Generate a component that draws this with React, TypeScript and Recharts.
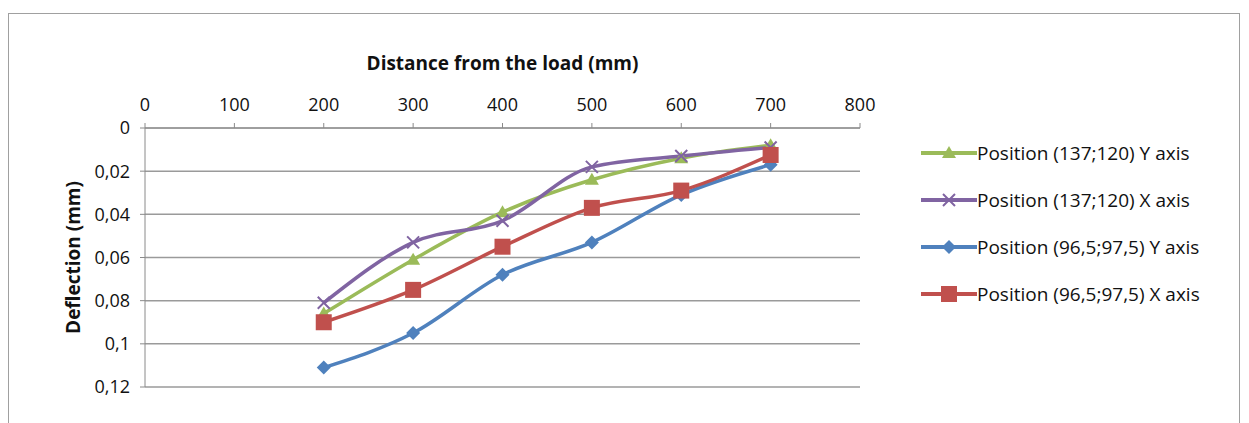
import { CartesianGrid, Line, LineChart, XAxis, YAxis } from "recharts";

const distances = [200, 300, 400, 500, 600, 700];
const pos137Y = [0.086, 0.061, 0.039, 0.024, 0.014, 0.008];
const pos137X = [0.081, 0.053, 0.043, 0.018, 0.013, 0.009];
const pos96Y = [0.111, 0.095, 0.068, 0.053, 0.031, 0.017];
const pos96X = [0.09, 0.075, 0.055, 0.037, 0.029, 0.0125];

const xTicks = [0, 100, 200, 300, 400, 500, 600, 700, 800];
const yTicks = [0, 0.02, 0.04, 0.06, 0.08, 0.1, 0.12];

type MarkerKind = "triangle" | "cross" | "diamond" | "square";

interface SeriesDef {
  key: string;
  name: string;
  color: string;
  marker: MarkerKind;
}

const series: SeriesDef[] = [
  { key: "g", name: "Position (137;120) Y axis", color: "#9BBB59", marker: "triangle" },
  { key: "p", name: "Position (137;120) X axis", color: "#8064A2", marker: "cross" },
  { key: "b", name: "Position (96,5;97,5) Y axis", color: "#4F81BD", marker: "diamond" },
  { key: "r", name: "Position (96,5;97,5) X axis", color: "#C0504D", marker: "square" },
];

const data = distances.map((d, i) => ({
  d,
  g: pos137Y[i],
  p: pos137X[i],
  b: pos96Y[i],
  r: pos96X[i],
}));

const FONT = "'Open Sans', sans-serif";

function markerShape(kind: MarkerKind, color: string, cx: number, cy: number, key?: string) {
  if (kind === "triangle") {
    return <polygon key={key} points={`${cx},${cy - 7} ${cx + 7},${cy + 5} ${cx - 7},${cy + 5}`} fill={color} />;
  }
  if (kind === "square") {
    return <rect key={key} x={cx - 8} y={cy - 8} width={16} height={16} fill={color} />;
  }
  if (kind === "diamond") {
    return <polygon key={key} points={`${cx},${cy - 7} ${cx + 7},${cy} ${cx},${cy + 7} ${cx - 7},${cy}`} fill={color} />;
  }
  return (
    <path key={key} d={`M${cx - 6},${cy - 6}L${cx + 6},${cy + 6}M${cx - 6},${cy + 6}L${cx + 6},${cy - 6}`} stroke={color} strokeWidth={2} fill="none" />
  );
}

function Legend() {
  return (
    <div style={{ position: "absolute", left: 910, top: 115, fontFamily: FONT, fontSize: 19, color: "#111" }}>
      {series.map((s) => (
        <div key={s.key} style={{ display: "flex", alignItems: "center", height: 47 }}>
          <svg width={58} height={20}>
            <line x1={2} y1={10} x2={58} y2={10} stroke={s.color} strokeWidth={4} />
            {markerShape(s.marker, s.color, 30, 10)}
          </svg>
          <span>{s.name}</span>
        </div>
      ))}
    </div>
  );
}

export default function App() {
  return (
    <div style={{ position: "relative", width: 1232, height: 420, marginTop: 5, border: "1px solid #a0a0a0", boxSizing: "border-box" }}>
      <LineChart width={1230} height={405} data={data} margin={{ top: 84, right: 379, left: 76, bottom: 32 }}>
        <CartesianGrid vertical={false} stroke="#9a9a9a" strokeWidth={1.5} />
        <XAxis
          dataKey="d"
          type="number"
          orientation="top"
          domain={[0, 800]}
          ticks={xTicks}
          height={30}
          stroke="#8a8a8a"
          tickSize={5}
          tickMargin={12}
          tick={{ fontSize: 18, fill: "#111", fontFamily: FONT }}
          label={{ value: "Distance from the load (mm)", position: "top", offset: 28, fontSize: 19, fontWeight: 700, fill: "#111", fontFamily: FONT }}
        />
        <YAxis
          type="number"
          reversed
          domain={[0, 0.12]}
          ticks={yTicks}
          width={60}
          stroke="#8a8a8a"
          tickSize={5}
          tickMargin={10}
          tickFormatter={(v: number) => String(v).replace(".", ",")}
          tick={{ fontSize: 18, fill: "#111", fontFamily: FONT }}
          label={{ value: "Deflection (mm)", angle: -90, position: "insideLeft", offset: -12, style: { textAnchor: "middle" }, fontSize: 19, fontWeight: 700, fill: "#111", fontFamily: FONT }}
        />
        {series.map((s) => (
          <Line
            key={s.key}
            type="monotone"
            dataKey={s.key}
            name={s.name}
            stroke={s.color}
            strokeWidth={3.5}
            isAnimationActive={false}
            dot={(props: any) => markerShape(s.marker, s.color, props.cx, props.cy, `${s.key}-${props.index}`)}
            activeDot={false}
          />
        ))}
      </LineChart>
      <Legend />
    </div>
  );
}
